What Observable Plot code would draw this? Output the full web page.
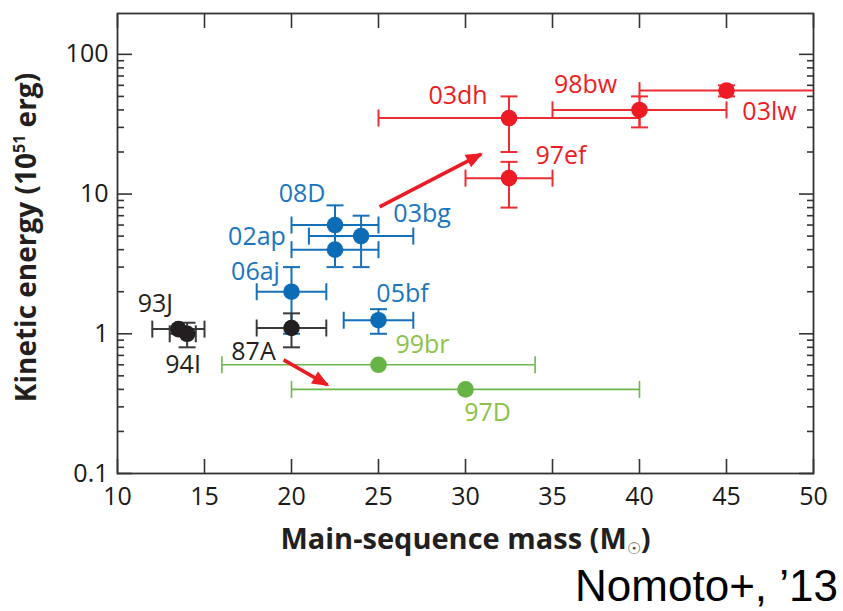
<!DOCTYPE html>
<html>
<head>
<meta charset="utf-8">
<script src="https://cdn.jsdelivr.net/npm/d3@7"></script>
<script src="https://cdn.jsdelivr.net/npm/@observablehq/plot@0.6"></script>
<style>
  body { margin: 0; background: #fff; width: 843px; height: 611px; position: relative; overflow: hidden; }
  #chart svg { display: block; }
  #credit { position: absolute; right: 5px; top: 572px; font: 44px "Liberation Sans", Arial, sans-serif; line-height: 28px; color: #000; white-space: nowrap; }
</style>
</head>
<body>
<div id="chart"></div>
<div id="credit">Nomoto+, ’13</div>
<script>
// Supernovae: progenitor main-sequence mass vs. explosion kinetic energy
const names     = ["03lw", "98bw", "03dh", "97ef", "08D", "03bg", "02ap", "06aj", "05bf", "87A", "93J", "94I", "99br", "97D"];
const groups    = ["hyper", "hyper", "hyper", "hyper", "ibc", "ibc", "ibc", "ibc", "ibc", "normal", "normal", "normal", "faint", "faint"];
const mass      = [45, 40, 32.5, 32.5, 22.5, 24, 22.5, 20, 25, 20, 13.5, 14, 25, 30];
const massLo    = [40, 35, 25, 30, 20, 21, 20, 18, 23, 18, 12, 13, 16, 20];
const massHi    = [60, 45, 40, 35, 25, 27, 25, 22, 27, 22, 15, 14.5, 34, 40];
const energy    = [55, 40, 35, 13, 6, 5, 4, 2, 1.25, 1.1, 1.08, 1.0, 0.6, 0.4];
const energyLo  = [50, 30, 20, 8, 4, 3, 3, 1, 1.0, 0.8, null, 0.8, null, null];
const energyHi  = [60, 50, 50, 17, 8.3, 7, 5, 3, 1.5, 1.4, null, 1.2, null, null];

// Arrows: start / tip in (mass, energy)
const arrowMass0   = [25.06, 19.55];
const arrowEnergy0 = [8.1, 0.65];
const arrowMass1   = [30.9, 22.07];
const arrowEnergy1 = [19.3, 0.43];

// Tick values
const xTicks  = [10, 15, 20, 25, 30, 35, 40, 45, 50];
const yMajor  = [0.1, 1, 10, 100];
const yMinor  = [0.2, 0.3, 0.4, 0.5, 0.6, 0.7, 0.8, 0.9, 2, 3, 4, 5, 6, 7, 8, 9, 20, 30, 40, 50, 60, 70, 80, 90];

const xTitle = "Main-sequence mass (M☉)";
const yTitle = "Kinetic energy (10^51 erg)";

// Styling
const markColor  = {hyper: "#ed1c24", ibc: "#0c6db6", normal: "#231f20", faint: "#66b446"};
const barColor   = {hyper: "#ed2c33", ibc: "#1470b8", normal: "#3a3a3a", faint: "#6cb84a"};
const labelColor = {hyper: "#ed1c24", ibc: "#1a75c0", normal: "#231f20", faint: "#8cc24a"};
const barWidth   = {hyper: 2, ibc: 2, normal: 2, faint: 1.6};
// label placement relative to each point, in pixels
const labelOffset = {
  "03lw": [43, 21], "98bw": [-54, -25], "03dh": [-51, -22], "97ef": [52, -22],
  "08D": [-33, -31], "03bg": [61, -22], "02ap": [-78, -13], "06aj": [-36, -20],
  "05bf": [24, -26], "87A": [-38, 24], "93J": [-23, -25], "94I": [-4, 31],
  "99br": [44, -20], "97D": [22, 24]
};

const rows = names.map((name, i) => ({
  name, group: groups[i], m: mass[i], mlo: massLo[i], mhi: massHi[i],
  e: energy[i], elo: energyLo[i], ehi: energyHi[i]
}));
const withEnergyErr = rows.filter(d => d.elo != null);
const arrows = arrowMass0.map((m, i) => ({m0: m, e0: arrowEnergy0[i], m1: arrowMass1[i], e1: arrowEnergy1[i]}));

// cap symbols: short vertical / horizontal segments of half-length r
const vCap = {draw(ctx, size) { const r = Math.sqrt(size / Math.PI); ctx.moveTo(0, -r); ctx.lineTo(0, r); }};
const hCap = {draw(ctx, size) { const r = Math.sqrt(size / Math.PI); ctx.moveTo(-r, 0); ctx.lineTo(r, 0); }};

const axisColor = "#333";
const byGroup = key => d => key[d.group];

const marks = [
  // inward ticks
  Plot.axisX(xTicks, {anchor: "bottom", tickSize: 14, dy: -14, fill: "none", label: null, stroke: axisColor, strokeWidth: 1.6}),
  Plot.axisX(xTicks, {anchor: "top", tickSize: 14, dy: 14, fill: "none", label: null, stroke: axisColor, strokeWidth: 1.6}),
  Plot.axisY(yMajor, {anchor: "left", tickSize: 15, dx: 15, fill: "none", label: null, stroke: axisColor, strokeWidth: 1.6}),
  Plot.axisY(yMajor, {anchor: "right", tickSize: 15, dx: -15, fill: "none", label: null, stroke: axisColor, strokeWidth: 1.6}),
  Plot.axisY(yMinor, {anchor: "left", tickSize: 7, dx: 7, fill: "none", label: null, stroke: axisColor, strokeWidth: 1.6}),
  Plot.axisY(yMinor, {anchor: "right", tickSize: 7, dx: -7, fill: "none", label: null, stroke: axisColor, strokeWidth: 1.6}),
  // tick labels
  Plot.axisX(xTicks, {anchor: "bottom", tickSize: 0, tickPadding: 14, label: null, fill: "#1a1a1a", fontSize: 25, tickFormat: d => String(d)}),
  Plot.axisY(yMajor, {anchor: "left", tickSize: 0, tickPadding: 9, label: null, fill: "#1a1a1a", fontSize: 25, tickFormat: d => String(d)}),
  Plot.frame({stroke: axisColor, strokeWidth: 1.8}),

  // mass error bars
  Plot.ruleY(rows, {y: "e", x1: "mlo", x2: "mhi", stroke: byGroup(barColor), strokeWidth: byGroup(barWidth), clip: true}),
  Plot.dot(rows, {x: "mlo", y: "e", symbol: vCap, r: 8.5, stroke: byGroup(barColor), strokeWidth: byGroup(barWidth), clip: true}),
  Plot.dot(rows, {x: "mhi", y: "e", symbol: vCap, r: 8.5, stroke: byGroup(barColor), strokeWidth: byGroup(barWidth), clip: true}),
  // energy error bars
  Plot.ruleX(withEnergyErr, {x: "m", y1: "elo", y2: "ehi", stroke: byGroup(barColor), strokeWidth: byGroup(barWidth)}),
  Plot.dot(withEnergyErr, {x: "m", y: "elo", symbol: hCap, r: 8.5, stroke: byGroup(barColor), strokeWidth: byGroup(barWidth)}),
  Plot.dot(withEnergyErr, {x: "m", y: "ehi", symbol: hCap, r: 8.5, stroke: byGroup(barColor), strokeWidth: byGroup(barWidth)}),
  // points
  Plot.dot(rows, {x: "m", y: "e", r: 8.3, fill: byGroup(markColor), stroke: "none"}),

  // arrows
  Plot.link(arrows, {x1: "m0", y1: "e0", x2: "m1", y2: "e1", stroke: "#ed1c24", strokeWidth: 3.6, markerEnd: "arrow"}),

  // labels
  ...rows.map(d => Plot.text([d], {
    x: "m", y: "e", text: "name", dx: labelOffset[d.name][0], dy: labelOffset[d.name][1],
    fill: labelColor[d.group], fontSize: 25, textAnchor: "middle", lineAnchor: "middle"
  })),

  // axis titles
  Plot.text([xTitle], {frameAnchor: "bottom", dy: 66, text: d => d, fontSize: 29, fontWeight: "bold", fill: "#231f20", textAnchor: "middle", lineAnchor: "middle"}),
  Plot.text([yTitle], {frameAnchor: "left", dx: -90, dy: -6, rotate: -90, text: d => d, fontSize: 28, fontWeight: "bold", fill: "#231f20", textAnchor: "middle", lineAnchor: "middle"})
];

const chart = Plot.plot({
  width: 843,
  height: 561,
  marginLeft: 117,
  marginRight: 30,
  marginTop: 13,
  marginBottom: 88,
  style: {fontFamily: "'Open Sans', sans-serif", fontSize: "25px", color: "#222", background: "#fff", overflow: "visible"},
  x: {domain: [10, 50]},
  y: {type: "log", domain: [0.1, 196]},
  marks
});

// filled arrowheads
chart.querySelectorAll("marker").forEach(mk => {
  mk.setAttribute("markerUnits", "userSpaceOnUse");
  mk.setAttribute("viewBox", "-20 -10 30 20");
  mk.setAttribute("markerWidth", 30);
  mk.setAttribute("markerHeight", 20);
  mk.setAttribute("fill", "#ed1c24");
  mk.setAttribute("stroke", "none");
  mk.innerHTML = '<path d="M-15,-7L2,0L-15,7Z"/>';
});

// superscript / subscript in axis titles
const ns = "http://www.w3.org/2000/svg";
chart.querySelectorAll("text").forEach(t => {
  if (t.textContent === yTitle) {
    t.textContent = "";
    const a = document.createElementNS(ns, "tspan"); a.textContent = "Kinetic energy (10";
    const b = document.createElementNS(ns, "tspan"); b.textContent = "51"; b.setAttribute("font-size", 16); b.setAttribute("dy", -11);
    const c = document.createElementNS(ns, "tspan"); c.textContent = " erg)"; c.setAttribute("dy", 11);
    t.append(a, b, c);
  } else if (t.textContent === xTitle) {
    t.textContent = "";
    const a = document.createElementNS(ns, "tspan"); a.textContent = "Main-sequence mass (M";
    const b = document.createElementNS(ns, "tspan"); b.textContent = "☉"; b.setAttribute("font-size", 16); b.setAttribute("font-weight", "normal"); b.setAttribute("dy", 5); b.setAttribute("fill", "#555");
    const c = document.createElementNS(ns, "tspan"); c.textContent = ")"; c.setAttribute("dy", -5);
    t.append(a, b, c);
  }
});

document.getElementById("chart").appendChild(chart);
</script>
</body>
</html>
